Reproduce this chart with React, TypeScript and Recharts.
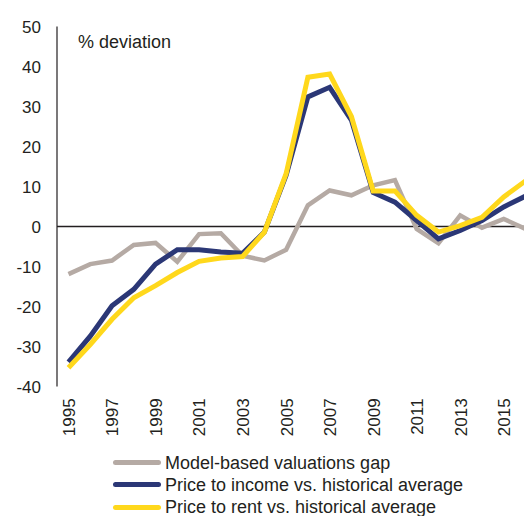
import { LineChart, Line, XAxis, YAxis, ReferenceLine } from 'recharts';

const years = [
  1995, 1996, 1997, 1998, 1999, 2000, 2001, 2002, 2003, 2004, 2005,
  2006, 2007, 2008, 2009, 2010, 2011, 2012, 2013, 2014, 2015, 2016,
];

const modelGap = [
  -11.9, -9.4, -8.5, -4.6, -4.1, -8.8, -1.9, -1.7, -7.3, -8.5, -5.8,
  5.3, 9.0, 7.8, 10.3, 11.6, -0.6, -4.2, 2.8, -0.3, 1.9, -0.6,
];

const priceIncome = [
  -33.9, -27.4, -19.8, -15.7, -9.4, -5.8, -5.8, -6.4, -6.7, -1.4, 12.8,
  32.4, 34.8, 26.6, 8.5, 6.1, 1.5, -3.1, -1.0, 1.5, 4.9, 7.6,
];

const priceRent = [
  -35.3, -29.5, -23.2, -17.8, -14.8, -11.5, -8.7, -7.9, -7.5, -1.4, 13.2,
  37.3, 38.1, 27.5, 8.9, 8.9, 2.8, -1.4, 0.2, 2.3, 7.4, 11.4,
];

const yTicks = [-40, -30, -20, -10, 0, 10, 20, 30, 40, 50];

const series = [
  { key: 'gap', name: 'Model-based valuations gap', color: '#b5aaa4', width: 4.5 },
  { key: 'income', name: 'Price to income vs. historical average', color: '#2b3776', width: 5 },
  { key: 'rent', name: 'Price to rent vs. historical average', color: '#ffd81c', width: 5 },
];

const data = years.map((year, i) => ({
  year,
  gap: modelGap[i],
  income: priceIncome[i],
  rent: priceRent[i],
}));

const font = '"Liberation Sans", Arial, sans-serif';
const ink = '#231f20';

const YearTick = ({ x, y, payload }: any) => (
  <g transform={`translate(${x},${y})`}>
    <text
      transform="rotate(-90)"
      x={-11.8}
      y={6.4}
      textAnchor="end"
      fontSize={17}
      fontFamily={font}
      fill={ink}
    >
      {payload.value}
    </text>
  </g>
);

export default function App() {
  // fixed to the viewport so the cropped right/bottom edge doesn't make scrollbars
  return (
    <div
      style={{
        position: 'fixed',
        left: 0,
        top: 0,
        width: 524,
        height: 516,
        overflow: 'hidden',
        fontFamily: font,
        background: '#fff',
      }}
    >
      <div style={{ position: 'absolute', left: 8, top: 8 }}>
        <LineChart
          width={529}
          height={500}
          data={data}
          margin={{ top: 18.5, right: 0, bottom: 66.5, left: 0 }}
        >
          <ReferenceLine y={0} stroke={ink} strokeWidth={1.5} />
          <XAxis
            dataKey="year"
            interval={1}
            padding={{ left: 11.5, right: 11.5 }}
            axisLine={false}
            tickLine={false}
            tickSize={0}
            tickMargin={0}
            height={55}
            tick={<YearTick />}
          />
          <YAxis
            domain={[-40, 50]}
            ticks={yTicks}
            width={49}
            axisLine={{ stroke: ink, strokeWidth: 1.2 }}
            tickLine={false}
            tickSize={0}
            tickMargin={16}
            tick={{ fontSize: 17, fill: ink, fontFamily: font }}
          />
          {series.map((s) => (
            <Line
              key={s.key}
              dataKey={s.key}
              name={s.name}
              type="linear"
              stroke={s.color}
              strokeWidth={s.width}
              dot={false}
              activeDot={false}
              isAnimationActive={false}
            />
          ))}
        </LineChart>
        <div
          style={{
            position: 'absolute',
            left: 70,
            top: 24.75,
            fontSize: 18,
            lineHeight: '18px',
            color: ink,
            whiteSpace: 'nowrap',
          }}
        >
          % deviation
        </div>
        <div style={{ position: 'absolute', left: 105, top: 443.5 }}>
          {series.map((s) => (
            <div
              key={s.key}
              style={{ display: 'flex', alignItems: 'center', height: 22.3, fontSize: 18, color: ink, whiteSpace: 'nowrap' }}
            >
              <span
                style={{
                  display: 'inline-block',
                  width: 48,
                  height: 5,
                  borderRadius: 3,
                  background: s.color,
                  marginRight: 4,
                }}
              />
              <span style={{ lineHeight: '22.3px' }}>{s.name}</span>
            </div>
          ))}
        </div>
      </div>
    </div>
  );
}
